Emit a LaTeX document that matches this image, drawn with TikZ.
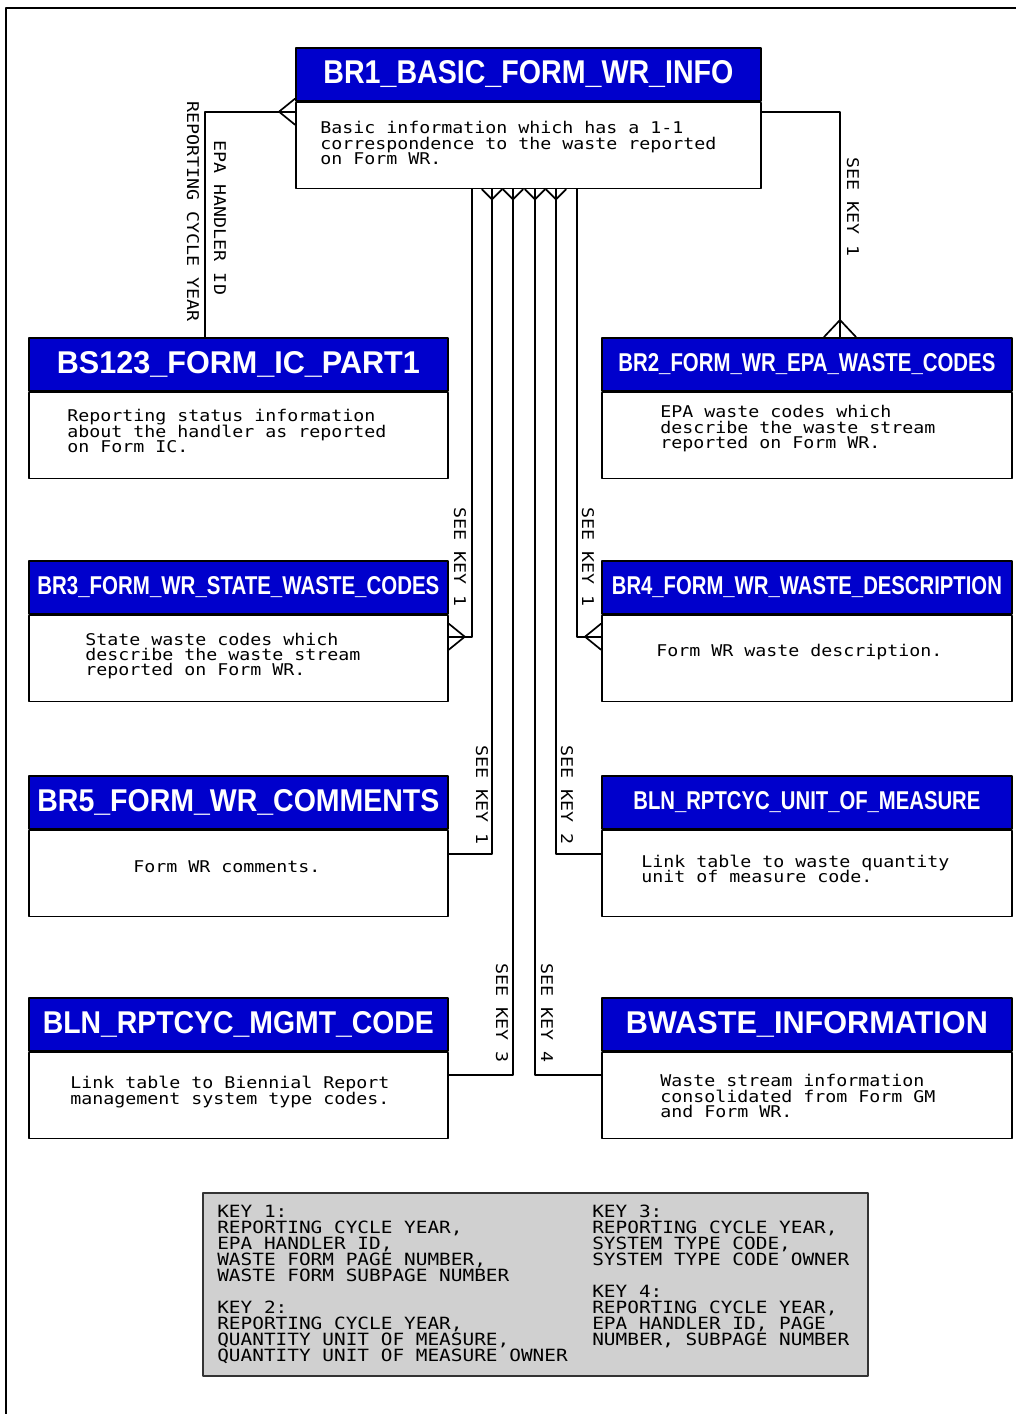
\documentclass[tikz,border=0pt]{standalone}
\usepackage{fontspec}
\usepackage{graphicx}
\setsansfont{Liberation Sans}
\newfontfamily\bodyfont{DejaVu Sans Mono}[FakeStretch=1.13]
\newfontfamily\keyfont{DejaVu Sans Mono}[FakeStretch=1.15]
\usetikzlibrary{calc}
\definecolor{hdrblue}{RGB}{0,0,204}
\definecolor{keygray}{RGB}{208,208,208}
\newlength{\pxl}
\setlength{\pxl}{0.025cm}
\newcommand{\hdrtext}[3]{\resizebox{#1\pxl}{#2\pxl}{\sffamily\bfseries #3}}
\newcommand{\bodysize}{\bodyfont\fontsize{11.5pt}{11pt}\selectfont\lineskiplimit=-100pt\lineskip=0pt}
\newcommand{\keysize}{\keyfont\fontsize{12pt}{11.35pt}\selectfont\lineskiplimit=-100pt\lineskip=0pt}
\begin{document}
\begin{tikzpicture}[x=0.025cm,y=-0.025cm,line cap=round,line join=round,
  hdr/.style={draw=black,fill=hdrblue,line width=1.2pt,inner sep=0pt,anchor=north west,minimum height=1.325cm,text=white},
  body/.style={draw=black,fill=white,line width=1.2pt,inner sep=0pt,anchor=north west,minimum height=2.15cm},
  txt/.style={anchor=west,inner sep=0pt,align=left,font=\bodysize},
  keytxt/.style={anchor=north west,inner sep=0pt,align=left,font=\keysize},
  lbl/.style={rotate=-90,inner sep=0pt,font=\bodysize},
  conn/.style={line width=1.2pt}]
  \useasboundingbox (0,0) rectangle (1016,1414);
  \draw[line width=1pt] (6,1414) -- (6,8) -- (1016,8);
  % entities
  \node[hdr,minimum width=11.625cm] (br1h) at (295,47) {\hdrtext{410}{23}{BR1\_BASIC\_FORM\_WR\_INFO}};
  \node[body,minimum width=11.625cm] (br1) at (br1h.south west) {};
  \node[hdr,minimum width=10.475cm] (bs123h) at (28,337) {\hdrtext{363}{22}{BS123\_FORM\_IC\_PART1}};
  \node[body,minimum width=10.475cm] (bs123) at (bs123h.south west) {};
  \node[hdr,minimum width=10.25cm] (br2h) at (601,337) {\hdrtext{377}{18}{BR2\_FORM\_WR\_EPA\_WASTE\_CODES}};
  \node[body,minimum width=10.25cm] (br2) at (br2h.south west) {};
  \node[hdr,minimum width=10.475cm] (br3h) at (28,560) {\hdrtext{402}{18}{BR3\_FORM\_WR\_STATE\_WASTE\_CODES}};
  \node[body,minimum width=10.475cm] (br3) at (br3h.south west) {};
  \node[hdr,minimum width=10.25cm] (br4h) at (601,560) {\hdrtext{390}{18}{BR4\_FORM\_WR\_WASTE\_DESCRIPTION}};
  \node[body,minimum width=10.25cm] (br4) at (br4h.south west) {};
  \node[hdr,minimum width=10.475cm] (br5h) at (28,775) {\hdrtext{402}{22}{BR5\_FORM\_WR\_COMMENTS}};
  \node[body,minimum width=10.475cm] (br5) at (br5h.south west) {};
  \node[hdr,minimum width=10.25cm] (unith) at (601,775) {\hdrtext{347}{18}{BLN\_RPTCYC\_UNIT\_OF\_MEASURE}};
  \node[body,minimum width=10.25cm] (unit) at (unith.south west) {};
  \node[hdr,minimum width=10.475cm] (mgmth) at (28,997) {\hdrtext{391}{22}{BLN\_RPTCYC\_MGMT\_CODE}};
  \node[body,minimum width=10.475cm] (mgmt) at (mgmth.south west) {};
  \node[hdr,minimum width=10.25cm] (wasteh) at (601,997) {\hdrtext{362}{22}{BWASTE\_INFORMATION}};
  \node[body,minimum width=10.25cm] (waste) at (wasteh.south west) {};
  % descriptions
  \node[txt] (br1t) at (320,143) {Basic information which has a 1-1\\correspondence to the waste reported\\on Form WR.};
  \node[txt] (bs123t) at (67,431) {Reporting status information\\about the handler as reported\\on Form IC.};
  \node[txt] (br2t) at (660,429) {EPA waste codes which\\describe the waste stream\\reported on Form WR.};
  \node[txt] (br3t) at (85,656) {State waste codes which\\describe the waste stream\\reported on Form WR.};
  \node[txt] (br4t) at (656,652) {Form WR waste description.};
  \node[txt] (br5t) at (133,867) {Form WR comments.};
  \node[txt] (unitt) at (641,869) {Link table to waste quantity\\unit of measure code.};
  \node[txt] (mgmtt) at (70,1092) {Link table to Biennial Report\\management system type codes.};
  \node[txt] (wastet) at (660,1096) {Waste stream information\\consolidated from Form GM\\and Form WR.};
  % relationships
  \draw[conn] ($(br1.north west)+(0,10)$) -| ($(bs123h.north west)+(177,0)$);
  \draw[conn] ($(br1.north west)+(-16,10)$) -- ($(br1.north west)+(0,-3)$);
  \draw[conn] ($(br1.north west)+(-16,10)$) -- ($(br1.north west)+(0,23)$);
  \draw[conn] ($(br1.north east)+(0,10)$) -| ($(br2h.north west)+(239,0)$);
  \draw[conn] ($(br2h.north west)+(239,-17)$) -- ($(br2h.north west)+(223,0)$);
  \draw[conn] ($(br2h.north west)+(239,-17)$) -- ($(br2h.north west)+(255,0)$);
  \draw[conn] ($(br1.south west)+(177,0)$) |- ($(br3.north east)+(0,22)$);
  \draw[conn] ($(br3.north east)+(16,22)$) -- ($(br3.north east)+(0,9)$);
  \draw[conn] ($(br3.north east)+(16,22)$) -- ($(br3.north east)+(0,35)$);
  \draw[conn] ($(br1.south west)+(282,0)$) |- ($(br4.north west)+(0,22)$);
  \draw[conn] ($(br4.north west)+(-16,22)$) -- ($(br4.north west)+(0,9)$);
  \draw[conn] ($(br4.north west)+(-16,22)$) -- ($(br4.north west)+(0,35)$);
  \draw[conn] ($(br1.south west)+(197,0)$) |- ($(br5.north east)+(0,24)$);
  \draw[conn] ($(br1.south west)+(261,0)$) |- ($(unit.north west)+(0,24)$);
  \draw[conn] ($(br1.south west)+(218,0)$) |- ($(mgmt.north east)+(0,23)$);
  \draw[conn] ($(br1.south west)+(240,0)$) |- ($(waste.north west)+(0,23)$);
  \foreach \dx in {197,218,240,261}
    \draw[conn] ($(br1.south west)+(\dx-10,0)$) -- ($(br1.south west)+(\dx,10)$) -- ($(br1.south west)+(\dx+10,0)$);
  % relationship labels
  \node[lbl] (lcyc) at (193,212) {REPORTING CYCLE YEAR};
  \node[lbl] (lepa) at (220,218) {EPA HANDLER ID};
  \node[lbl] (lkey1a) at (853,207) {SEE KEY 1};
  \node[lbl] (lkey1b) at (460,557) {SEE KEY 1};
  \node[lbl] (lkey1c) at (588,557) {SEE KEY 1};
  \node[lbl] (lkey1d) at (482,795) {SEE KEY 1};
  \node[lbl] (lkey2) at (567,795) {SEE KEY 2};
  \node[lbl] (lkey3) at (502,1013) {SEE KEY 3};
  \node[lbl] (lkey4) at (547,1013) {SEE KEY 4};
  % key
  \node[draw=black!80,fill=keygray,line width=1.5pt,minimum width=16.625cm,minimum height=4.575cm,anchor=north west,inner sep=0pt] (keybox) at (202,1192) {};
  \node[keytxt] (keyl) at (217,1205) {KEY 1:\\REPORTING CYCLE YEAR,\\EPA HANDLER ID,\\WASTE FORM PAGE NUMBER,\\WASTE FORM SUBPAGE NUMBER\\[11.35pt]KEY 2:\\REPORTING CYCLE YEAR,\\QUANTITY UNIT OF MEASURE,\\QUANTITY UNIT OF MEASURE OWNER};
  \node[keytxt] (keyr) at (592,1205) {KEY 3:\\REPORTING CYCLE YEAR,\\SYSTEM TYPE CODE,\\SYSTEM TYPE CODE OWNER\\[11.35pt]KEY 4:\\REPORTING CYCLE YEAR,\\EPA HANDLER ID, PAGE\\NUMBER, SUBPAGE NUMBER};
\end{tikzpicture}
\end{document}
